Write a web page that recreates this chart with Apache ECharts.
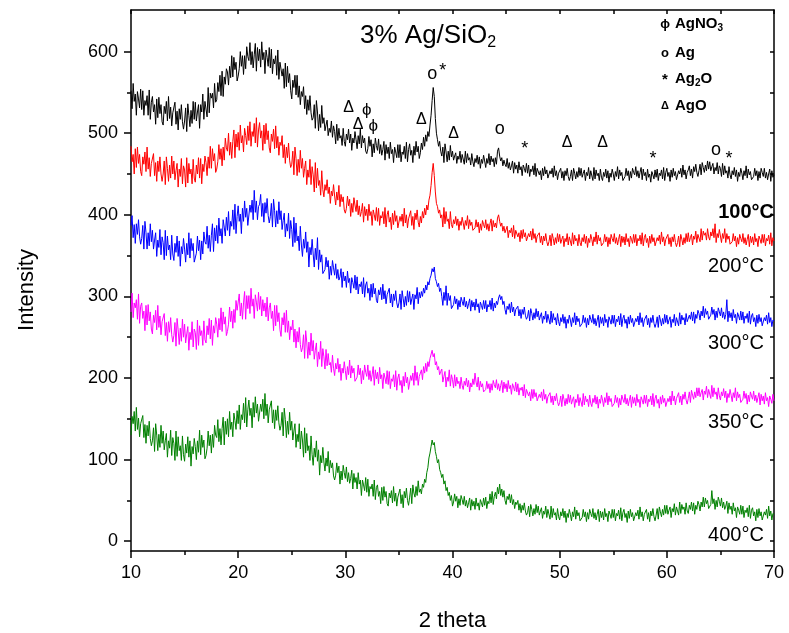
<!DOCTYPE html>
<html>
<head>
<meta charset="utf-8">
<title>XRD 3% Ag/SiO2</title>
<script src="https://cdn.jsdelivr.net/npm/echarts@6/dist/echarts.min.js"></script>
<style>
  html, body { margin: 0; padding: 0; background: #fff; }
  #chart { width: 789px; height: 633px; }
</style>
</head>
<body>
<div id="chart"></div>
<script>
// Diffraction scans, sampled every 0.1 degree of 2 theta from 10 to 70 (one row per degree)
const thetaStart = 10;
const thetaStep = 0.1;

const sampleLabels = ['100°C', '200°C', '300°C', '350°C', '400°C'];

const intensity100 = [
  552,530,561,539,548,522,551,542,531,554,
  529,552,522,540,534,546,522,553,517,538,
  545,526,535,511,542,519,544,524,535,514,
  510,533,524,539,515,545,518,532,509,525,
  526,538,511,527,504,530,517,535,514,505,
  515,531,502,536,522,508,528,512,539,517,
  538,515,526,535,506,535,526,548,517,539,
  541,520,556,525,549,543,549,531,561,538,
  541,562,551,571,546,576,545,569,560,579,
  575,559,582,568,595,569,593,578,587,564,
  570,579,600,582,595,572,595,579,606,594,
  589,611,584,600,580,596,610,576,605,589,
  603,581,612,590,599,573,602,593,582,605,
  580,603,573,591,585,595,571,602,566,587,
  589,570,579,555,586,557,582,562,573,552,
  542,565,556,571,547,571,544,558,535,551,
  545,557,530,546,523,541,528,546,525,516,
  519,535,506,540,526,503,523,507,534,512,
  519,503,510,516,497,506,501,515,495,509,
  502,487,511,491,506,494,497,485,506,490,
  484,499,492,505,488,499,479,494,488,502,
  492,481,497,487,505,482,497,488,494,478,
  475,481,496,484,492,471,487,476,494,485,
  479,493,475,486,473,480,490,467,486,475,
  483,469,489,475,480,464,483,477,470,486,
  470,486,465,477,474,484,469,489,465,480,
  487,473,479,464,484,473,490,477,484,469,
  476,488,480,495,484,498,490,502,496,510,
  522,540,556,545,518,500,492,484,490,478,
  472,483,464,487,477,465,478,467,485,471,
  478,467,472,476,463,472,468,478,464,474,
  472,462,478,464,475,467,470,461,475,465,
  459,469,464,473,462,471,457,468,463,473,
  466,458,469,463,475,461,472,465,469,459,
  470,462,478,482,472,466,470,460,467,462,
  459,469,457,464,455,460,466,451,464,456,
  461,451,465,455,459,448,461,457,452,463,
  451,461,447,456,453,460,449,463,447,457,
  459,449,454,443,457,448,459,450,455,445,
  444,454,450,457,446,460,448,454,443,451,
  452,457,445,453,442,454,448,457,447,442,
  447,455,442,457,451,444,453,446,458,448,
  457,446,451,455,442,452,448,458,444,454,
  452,442,458,444,455,448,451,442,456,446,
  442,452,447,456,445,454,440,451,446,456,
  450,442,453,447,459,444,455,448,452,442,
  442,447,457,448,454,442,453,445,457,452,
  449,459,447,454,445,452,458,443,456,448,
  452,442,456,446,450,440,453,449,444,455,
  446,456,442,451,448,455,444,458,442,452,
  457,447,452,441,455,446,457,448,453,443,
  444,454,450,457,446,461,449,455,444,452,
  455,460,448,456,445,459,453,462,452,447,
  454,462,449,464,458,452,461,454,466,456,
  465,454,459,463,450,458,454,464,450,460,
  457,447,463,449,460,451,454,445,459,449,
  444,454,449,458,447,455,441,452,447,457,
  451,443,454,448,460,445,456,449,453,443,
  442,447,457,448,454,442,453,445,457,452,
  447,457,445,452,443,450,456,441,454,446,
  449
];

const intensity200 = [
  484,465,474,450,481,458,483,463,474,453,
  448,471,462,477,453,483,456,470,447,463,
  463,475,448,464,441,466,453,471,450,441,
  450,466,437,471,457,441,461,445,472,450,
  466,443,454,463,434,456,447,469,438,460,
  455,434,470,439,463,450,456,438,468,445,
  440,461,450,470,445,469,438,462,453,472,
  464,448,471,457,484,457,481,466,475,452,
  456,465,486,468,481,460,483,467,494,482,
  478,500,473,489,469,490,504,470,499,483,
  501,479,510,488,497,477,506,497,486,509,
  491,514,484,502,496,512,488,519,483,504,
  513,494,503,479,510,487,512,492,503,482,
  476,499,490,505,481,509,482,496,473,489,
  485,497,470,486,463,483,470,488,467,458,
  462,478,449,483,469,448,468,452,479,457,
  469,446,457,466,437,455,446,468,437,459,
  449,428,464,433,457,436,442,424,454,431,
  422,437,430,443,426,434,414,429,423,437,
  423,412,428,418,436,410,425,416,422,406,
  402,408,423,411,419,398,414,403,421,412,
  404,418,400,411,398,404,414,391,410,399,
  407,393,413,399,404,387,406,400,393,409,
  392,408,387,399,396,404,389,409,385,400,
  405,391,397,382,402,388,405,392,399,384,
  382,398,392,401,386,408,390,400,384,395,
  396,405,387,398,382,402,394,406,391,385,
  398,390,404,396,408,400,412,406,418,424,
  436,452,463,448,428,414,410,402,406,396,
  400,385,409,389,404,392,395,383,404,388,
  384,394,389,398,387,395,381,392,387,397,
  390,382,393,387,399,383,394,387,391,381,
  379,384,394,385,391,378,389,381,393,388,
  384,394,382,389,380,389,395,380,393,385,
  390,384,396,400,392,386,390,380,386,378,
  376,386,372,381,378,384,373,387,371,381,
  383,373,378,367,381,371,382,373,378,368,
  367,377,373,380,369,383,371,377,366,374,
  373,378,366,374,363,374,368,377,367,362,
  367,375,362,377,371,363,372,365,377,367,
  376,365,370,374,361,371,367,377,363,373,
  372,362,378,364,375,368,371,362,376,366,
  362,372,367,376,365,374,360,371,366,376,
  370,362,373,367,379,364,375,368,372,362,
  361,366,376,367,373,361,372,364,376,371,
  367,377,365,372,363,370,376,361,374,366,
  373,363,377,367,371,361,374,370,365,376,
  366,376,362,371,368,375,364,378,362,372,
  376,366,371,360,374,365,376,367,372,362,
  362,372,368,375,364,379,367,373,362,370,
  371,376,364,372,361,373,367,376,366,361,
  366,374,361,376,370,363,372,365,377,367,
  378,367,372,376,363,374,370,380,366,376,
  377,367,383,369,380,375,378,369,383,373,
  369,379,374,383,372,389,366,377,372,382,
  374,366,377,371,383,366,377,370,374,364,
  362,367,377,368,374,361,372,364,376,371,
  367,377,365,372,363,370,376,361,374,366,
  373,363,377,367,371,361,374,370,365,376,
  366,376,362,371,368,375,364,378,362,372,
  368
];

const intensity300 = [
  387,399,372,388,365,389,376,394,373,364,
  371,387,358,392,378,358,378,362,389,367,
  381,358,369,378,349,369,360,382,351,373,
  366,345,381,350,374,357,363,345,375,352,
  344,365,354,374,349,368,337,361,352,371,
  358,342,365,351,378,347,371,356,365,342,
  344,353,374,356,369,345,368,352,379,367,
  364,386,359,375,355,375,389,355,384,368,
  387,365,396,374,383,365,394,385,374,397,
  381,404,374,392,386,406,382,413,377,398,
  411,392,401,377,408,392,417,397,408,387,
  389,412,403,418,394,430,403,417,394,410,
  413,425,398,414,391,415,402,420,399,390,
  398,414,385,419,405,385,405,389,416,394,
  405,382,393,402,373,389,380,402,371,393,
  382,361,397,366,390,368,374,356,386,363,
  349,370,359,379,354,367,336,360,351,370,
  352,336,359,345,372,333,357,342,351,328,
  327,333,348,336,344,321,337,326,344,335,
  326,340,322,333,320,324,334,311,330,319,
  325,311,331,317,322,304,323,317,310,326,
  308,324,303,315,312,318,303,323,299,314,
  318,304,310,295,315,299,316,303,310,295,
  292,308,302,311,296,315,297,307,291,302,
  301,310,292,303,287,303,295,307,292,286,
  292,303,284,307,297,287,300,289,307,293,
  306,290,297,303,284,302,297,311,291,305,
  298,306,300,310,304,314,308,318,314,322,
  326,334,330,336,322,318,312,316,306,310,
  300,289,305,295,313,289,304,295,301,285,
  285,290,300,291,297,284,295,287,299,294,
  289,299,287,294,285,291,297,282,295,287,
  293,283,297,287,291,280,293,289,284,295,
  285,295,281,290,287,295,284,298,282,292,
  286,294,290,298,302,296,300,290,294,284,
  278,288,284,291,280,293,281,287,276,284,
  283,288,276,284,273,284,278,287,277,272,
  275,283,270,285,279,271,280,273,285,275,
  282,271,276,280,267,276,272,282,268,278,
  276,266,282,268,279,271,274,265,279,269,
  264,274,269,278,267,275,261,272,267,277,
  271,263,274,268,280,265,276,269,273,263,
  262,267,277,268,274,262,273,265,277,272,
  268,278,266,273,264,271,277,262,275,267,
  274,264,278,268,272,262,275,271,266,277,
  267,277,263,272,269,276,265,279,263,273,
  277,267,272,261,275,266,277,268,273,263,
  263,273,269,276,265,280,268,274,263,271,
  272,277,265,273,262,274,268,277,267,262,
  267,275,262,277,271,264,273,266,278,268,
  277,266,271,275,262,272,268,278,264,274,
  274,264,280,266,277,271,274,265,279,269,
  267,277,272,281,270,281,267,278,273,283,
  279,271,282,276,288,274,285,278,282,272,
  272,277,287,278,284,271,282,274,286,281,
  276,286,274,281,272,278,296,269,282,274,
  280,270,284,274,278,267,280,276,271,282,
  271,281,267,276,273,279,268,282,266,276,
  279,269,274,263,277,267,278,269,274,264,
  264,274,270,277,266,280,268,274,263,271,
  270
];

const intensity350 = [
  281,304,274,292,286,296,272,303,267,288,
  292,273,282,258,289,265,290,270,281,260,
  254,277,268,283,259,289,262,276,253,269,
  267,279,252,268,245,269,256,274,253,244,
  252,268,239,273,259,241,261,245,272,250,
  266,243,254,263,234,256,247,269,238,260,
  256,235,271,240,264,252,258,240,270,247,
  243,264,253,273,248,271,240,264,255,274,
  266,250,273,259,286,257,281,266,275,252,
  257,266,287,269,282,261,284,268,295,283,
  281,303,276,292,272,292,306,272,301,285,
  301,279,310,288,297,273,302,293,282,305,
  284,300,276,296,282,292,275,299,270,286,
  292,273,282,258,289,264,289,269,280,259,
  251,274,265,280,256,283,256,270,247,263,
  259,271,244,260,237,257,244,262,241,232,
  237,253,224,258,244,224,244,228,255,233,
  246,223,234,243,214,232,223,245,214,236,
  226,211,235,215,230,216,219,207,228,212,
  203,218,211,224,207,217,197,212,206,220,
  209,198,214,204,222,200,215,206,212,196,
  195,201,216,204,212,193,209,198,216,207,
  202,216,198,209,196,204,214,191,210,199,
  207,193,213,199,204,187,206,200,193,209,
  192,208,187,199,196,204,189,209,185,200,
  205,191,197,182,202,190,207,194,201,186,
  187,203,197,206,191,215,197,207,191,202,
  200,210,198,214,206,218,208,220,214,224,
  222,234,226,230,216,220,210,214,204,208,
  211,195,202,208,189,201,196,210,190,204,
  198,188,204,190,201,193,196,187,201,191,
  186,196,191,200,189,197,183,194,189,199,
  192,206,195,189,201,185,196,189,193,183,
  181,186,196,187,193,182,193,185,197,192,
  188,198,186,193,184,191,197,182,195,187,
  193,183,197,187,191,180,193,189,184,195,
  183,193,179,188,185,189,178,192,176,186,
  188,178,183,172,186,175,186,177,182,172,
  170,180,176,183,172,186,174,180,169,177,
  177,182,170,178,167,178,172,181,171,166,
  170,178,165,180,174,166,175,168,180,170,
  179,168,173,177,164,174,170,180,166,176,
  175,165,181,167,178,171,174,165,179,169,
  165,175,170,179,168,177,163,174,169,179,
  173,165,176,170,182,167,178,171,175,165,
  164,169,179,170,176,164,175,167,179,174,
  170,180,168,175,166,173,179,164,177,169,
  176,166,180,170,174,164,177,173,168,179,
  169,179,165,174,171,178,167,181,165,175,
  179,169,174,163,177,168,179,170,175,165,
  165,175,171,178,167,184,172,178,167,175,
  177,182,170,178,167,180,174,183,173,168,
  175,183,170,185,179,174,183,176,188,178,
  188,177,182,186,173,184,180,190,176,186,
  185,175,191,177,188,180,183,174,188,178,
  173,183,178,187,176,184,170,181,176,186,
  179,171,182,176,188,172,183,176,180,170,
  169,174,184,175,181,168,179,171,183,178,
  174,184,172,179,170,176,182,167,180,172,
  178,168,182,172,176,165,178,174,169,180,
  172
];

const intensity400 = [
  130,153,144,159,135,164,137,151,128,144,
  142,154,127,143,120,142,129,147,126,117,
  123,139,110,144,130,111,131,115,142,120,
  135,112,123,132,103,123,114,136,105,127,
  120, 99,135,104,128,111,117, 99,129,106,
   98,119,108,128,103,123, 92,116,107,126,
  116,100,123,109,136,106,130,115,124,101,
  105,114,135,117,130,108,131,115,142,130,
  127,149,122,138,118,138,152,118,147,131,
  150,128,159,137,146,128,157,148,137,160,
  144,167,137,155,149,169,145,176,140,161,
  173,154,163,139,170,152,177,157,168,147,
  145,168,159,174,150,181,154,168,145,161,
  160,172,145,161,138,161,148,166,145,136,
  142,158,129,163,149,127,147,131,158,136,
  147,124,135,144,115,131,122,144,113,135,
  124,103,139,108,132,111,117, 99,129,106,
   93,114,103,123, 98,112, 81,105, 96,115,
   97, 86,102, 92,110, 84, 99, 90, 96, 80,
   75, 81, 96, 84, 92, 70, 86, 75, 93, 84,
   77, 91, 73, 84, 71, 77, 87, 64, 83, 72,
   78, 64, 84, 70, 75, 56, 75, 69, 62, 78,
   60, 76, 55, 67, 64, 70, 55, 75, 51, 66,
   69, 55, 61, 46, 66, 50, 67, 54, 61, 46,
   43, 59, 53, 62, 47, 67, 49, 59, 43, 54,
   55, 64, 46, 57, 41, 61, 53, 65, 50, 44,
   54, 65, 46, 69, 59, 54, 67, 56, 74, 60,
   64, 58, 70, 66, 76, 72, 84, 90,102,108,
  116,124,118,121,110,104, 96,100, 88, 84,
   78, 82, 70, 74, 62, 66, 56, 60, 50, 56,
   43, 48, 58, 49, 55, 41, 52, 44, 56, 51,
   45, 55, 43, 50, 41, 47, 53, 38, 51, 43,
   49, 39, 53, 43, 47, 38, 51, 47, 42, 53,
   44, 54, 40, 49, 46, 58, 47, 61, 45, 55,
   60, 52, 66, 58, 70, 56, 64, 54, 62, 50,
   45, 55, 51, 58, 47, 57, 45, 51, 40, 48,
   45, 50, 38, 46, 35, 44, 38, 47, 37, 32,
   35, 43, 30, 45, 39, 31, 40, 33, 45, 35,
   43, 32, 37, 41, 28, 37, 33, 43, 29, 39,
   37, 27, 43, 29, 40, 32, 35, 26, 40, 30,
   26, 36, 31, 40, 29, 37, 23, 34, 29, 39,
   33, 25, 36, 30, 42, 27, 38, 31, 35, 25,
   24, 29, 39, 30, 36, 24, 35, 27, 39, 34,
   30, 40, 28, 35, 26, 33, 39, 24, 37, 29,
   36, 26, 40, 30, 34, 24, 37, 33, 28, 39,
   29, 39, 25, 34, 31, 38, 27, 41, 25, 35,
   39, 29, 34, 23, 37, 28, 39, 30, 35, 25,
   25, 35, 31, 38, 27, 42, 30, 36, 25, 33,
   34, 39, 27, 35, 24, 37, 31, 40, 30, 25,
   32, 40, 27, 42, 36, 30, 39, 32, 44, 34,
   44, 33, 38, 42, 29, 40, 36, 46, 32, 42,
   42, 32, 48, 34, 45, 39, 42, 33, 47, 37,
   34, 44, 39, 48, 37, 47, 33, 44, 39, 49,
   45, 37, 48, 42, 54, 42, 53, 46, 50, 40,
   40, 45, 62, 46, 52, 39, 50, 42, 54, 49,
   43, 53, 41, 48, 39, 43, 49, 34, 47, 39,
   43, 33, 47, 37, 41, 29, 42, 38, 33, 44,
   33, 43, 29, 38, 35, 41, 30, 44, 28, 38,
   41, 31, 36, 25, 39, 29, 40, 31, 36, 26,
   26, 36, 32, 39, 28, 43, 31, 37, 26, 34,
   33
];

// Phase markers above the 100°C scan: [2 theta, intensity, symbol]
const phaseMarks = [
  [30.3, 532, 'Δ'], [32.0, 528, 'ϕ'], [31.2, 511, 'Δ'], [32.6, 509, 'ϕ'],
  [37.1, 517, 'Δ'], [38.1, 572, 'o'], [39.1, 582, '*'], [40.1, 499, 'Δ'],
  [44.4, 505, 'o'], [46.75, 487, '*'], [50.7, 489, 'Δ'], [54.0, 489, 'Δ'],
  [58.7, 475, '*'], [64.6, 480, 'o'], [65.8, 475, '*']
];

const yTickValues = [0, 100, 200, 300, 400, 500, 600];
const yMinorValues = [50, 150, 250, 350, 450, 550];
const yRightTicks = [0, 50, 100, 150, 200, 250, 300, 350, 400, 450, 500, 550, 600];

// Drawing settings
const lineColors = ['#000000', '#ff0000', '#0000ff', '#ff00ff', '#008000'];
const labelAnchors = [[70.0, 403], [69.05, 337], [69.05, 242], [69.05, 146], [69.05, 7]];
const FONT = '"Liberation Sans", Arial, "DejaVu Sans", sans-serif';

const scans = [intensity100, intensity200, intensity300, intensity350, intensity400];

function toPairs(values) {
  return values.map((v, i) => [+(thetaStart + i * thetaStep).toFixed(2), v]);
}

const lineSeries = scans.map((vals, k) => ({
  name: sampleLabels[k],
  type: 'line',
  xAxisIndex: 0,
  yAxisIndex: 0,
  data: toPairs(vals),
  showSymbol: false,
  symbol: 'none',
  lineStyle: { color: lineColors[k], width: 1 },
  z: 3,
  silent: true,
  animation: false
}));

const tempLabelSeries = {
  type: 'scatter',
  xAxisIndex: 0,
  yAxisIndex: 0,
  symbolSize: 0,
  itemStyle: { opacity: 1 },
  silent: true,
  animation: false,
  z: 5,
  data: sampleLabels.map((t, k) => ({
    value: labelAnchors[k],
    label: {
      show: true,
      formatter: t,
      position: 'inside',
      align: 'right',
      verticalAlign: 'middle',
      fontFamily: FONT,
      fontSize: 20,
      fontWeight: k === 0 ? 'bold' : 'normal',
      color: '#000',
      opacity: 1
    }
  }))
};

const markSeries = {
  type: 'scatter',
  xAxisIndex: 0,
  yAxisIndex: 0,
  symbolSize: 0,
  itemStyle: { opacity: 1 },
  silent: true,
  animation: false,
  z: 5,
  data: phaseMarks.map(m => ({
    value: [m[0], m[1]],
    label: {
      show: true,
      formatter: m[2],
      position: 'inside',
      align: 'center',
      verticalAlign: 'middle',
      offset: m[2] === '*' ? [0, 5] : [0, 0],
      fontFamily: FONT,
      fontSize: m[2] === 'Δ' ? 16 : (m[2] === 'ϕ' ? 17 : 18),
      color: '#000',
      opacity: 1
    }
  }))
};

const legendRows = [
  { sym: 'ϕ', txt: '{b|AgNO}{s|3}' },
  { sym: 'o', txt: '{b|Ag}' },
  { sym: '*', txt: '{b|Ag}{s|2}{b|O}' },
  { sym: 'Δ', txt: '{b|AgO}' }
];
const legendY = [24, 53, 79, 106];

const legendGraphics = [];
legendRows.forEach((r, i) => {
  legendGraphics.push({
    type: 'text',
    x: 665, y: legendY[i] + (r.sym === '*' ? 1 : 0),
    style: {
      text: r.sym, fontFamily: FONT, fontWeight: 'bold',
      fontSize: r.sym === 'Δ' ? 11 : (r.sym === '*' ? 15 : 13),
      fill: '#000', align: 'center', verticalAlign: 'middle'
    }
  });
  legendGraphics.push({
    type: 'text',
    x: 675, y: legendY[i],
    style: {
      text: r.txt,
      align: 'left', verticalAlign: 'middle',
      rich: {
        b: { fontFamily: FONT, fontWeight: 'bold', fontSize: 15, fill: '#000', lineHeight: 18, verticalAlign: 'middle' },
        s: { fontFamily: FONT, fontWeight: 'bold', fontSize: 10, fill: '#000', lineHeight: 18, verticalAlign: 'bottom', padding: [8, 0, 0, 0] }
      }
    }
  });
});

const chart = echarts.init(document.getElementById('chart'), null, { renderer: 'canvas' });

const yBase = { type: 'value', min: -12, max: 651, splitLine: { show: false } };

chart.setOption({
  animation: false,
  backgroundColor: '#ffffff',
  grid: { left: 131, right: 15, top: 10, bottom: 82, containLabel: false, outerBoundsMode: 'none' },
  xAxis: [
    {
      type: 'value', position: 'bottom', min: 10, max: 70, interval: 10,
      axisLine: { show: true, onZero: false, lineStyle: { color: '#000', width: 1.5 } },
      axisTick: { show: true, inside: false, length: 7, lineStyle: { color: '#000', width: 1.5 } },
      minorTick: { show: true, splitNumber: 2, length: 4, lineStyle: { color: '#000', width: 1.5 } },
      axisLabel: { color: '#000', fontFamily: FONT, fontSize: 18, margin: 13 },
      splitLine: { show: false },
      name: '2 theta', nameLocation: 'middle', nameGap: 59,
      nameTextStyle: { color: '#000', fontFamily: FONT, fontSize: 22 }
    },
    {
      type: 'value', position: 'top', min: 10, max: 70, interval: 5,
      axisLine: { show: true, onZero: false, lineStyle: { color: '#000', width: 1.5 } },
      axisTick: { show: true, inside: true, length: 4, lineStyle: { color: '#000', width: 1.5 } },
      axisLabel: { show: false },
      splitLine: { show: false }
    }
  ],
  yAxis: [
    Object.assign({}, yBase, {
      position: 'left',
      axisLine: { show: true, onZero: false, lineStyle: { color: '#000', width: 1.5 } },
      axisTick: { show: true, inside: false, length: 7, customValues: yTickValues, lineStyle: { color: '#000', width: 1.5 } },
      axisLabel: { show: true, customValues: yTickValues, color: '#000', fontFamily: FONT, fontSize: 18, margin: 13 }
    }),
    Object.assign({}, yBase, {
      position: 'right',
      axisLine: { show: true, onZero: false, lineStyle: { color: '#000', width: 1.5 } },
      axisTick: { show: true, inside: true, length: 4, customValues: yRightTicks, lineStyle: { color: '#000', width: 1.5 } },
      axisLabel: { show: false }
    }),
    Object.assign({}, yBase, {
      position: 'left',
      offset: 0,
      axisLine: { show: false },
      axisTick: { show: true, inside: false, length: 4, customValues: yMinorValues, lineStyle: { color: '#000', width: 1.5 } },
      axisLabel: { show: false }
    })
  ],
  graphic: [
    {
      type: 'text', x: 360, y: 36,
      style: {
        text: '{m|3% Ag/SiO}{s|2}',
        align: 'left', verticalAlign: 'middle',
        rich: {
          m: { fontFamily: FONT, fontSize: 26, fill: '#000', lineHeight: 30, verticalAlign: 'middle' },
          s: { fontFamily: FONT, fontSize: 16, fill: '#000', lineHeight: 30, verticalAlign: 'bottom', padding: [12, 0, 0, 0] }
        }
      }
    },
    {
      type: 'text', x: 27, y: 290, rotation: Math.PI / 2,
      style: {
        text: 'Intensity', fontFamily: FONT, fontSize: 22, fill: '#000',
        align: 'center', verticalAlign: 'middle'
      }
    }
  ].concat(legendGraphics),
  series: lineSeries.concat([markSeries, tempLabelSeries])
});
</script>
</body>
</html>
